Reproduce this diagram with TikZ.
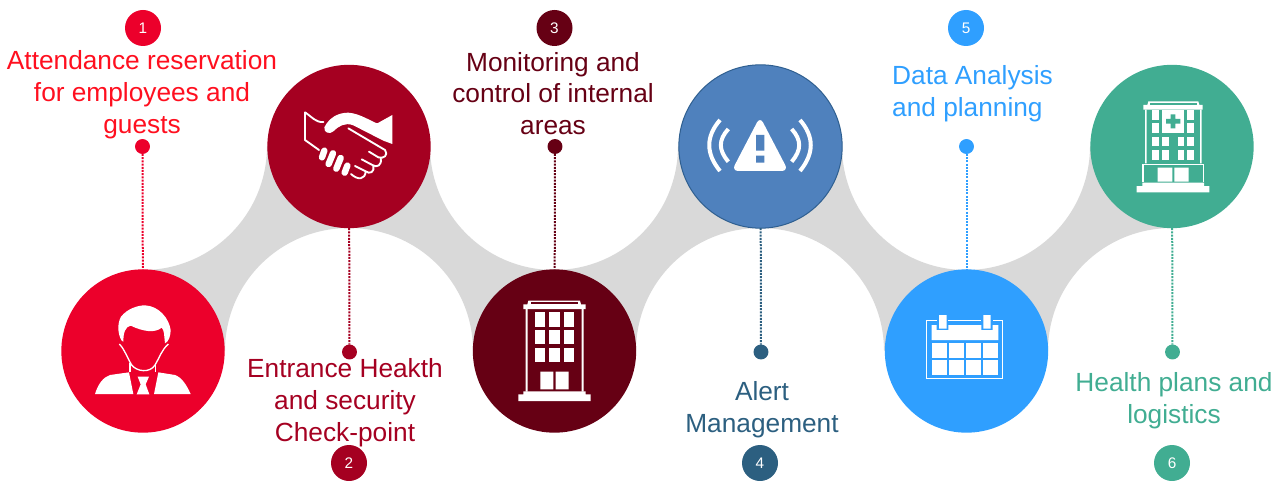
\documentclass[tikz,border=0pt]{standalone}
\usepackage{fontspec}
\setmainfont{Liberation Sans}
\usetikzlibrary{calc}
\definecolor{cA}{HTML}{EC002B}
\definecolor{cAt}{HTML}{FF0F1F}
\definecolor{cB}{HTML}{A50021}
\definecolor{cC}{HTML}{660014}
\definecolor{cD}{HTML}{4F81BD}
\definecolor{cDl}{HTML}{2F5F90}
\definecolor{cDt}{HTML}{2C5F80}
\definecolor{cE}{HTML}{2F9FFF}
\definecolor{cF}{HTML}{41AD92}
\definecolor{band}{HTML}{D9D9D9}
\tikzset{
  hub/.style={circle,inner sep=0,outer sep=0,minimum size=122.5pt,fill=#1},
  stepdot/.style={circle,inner sep=0,outer sep=0,minimum size=11.2pt,fill=#1},
  badge/.style={circle,inner sep=0,outer sep=0,minimum size=27pt,fill=#1,text=white,font=\fontsize{11.5}{13}\selectfont},
  steptext/.style={align=center,inner sep=0,text=#1,font=\fontsize{19.7}{23.9}\selectfont},
  linker/.style={draw=#1,line width=1.5pt,dash pattern=on 1.5pt off 0.9pt},
  zoomB/.style={shift={(460,60)},x=0.25pt,y=-0.25pt},
  zoomC/.style={shift={(860,60)},x=0.25pt,y=-0.25pt},
  iconstroke/.style={white,line width=1.4pt,line cap=round,line join=round},
  fingerstroke/.style={white,line width=4.8pt,line cap=round}
}
\begin{document}
\begin{tikzpicture}[x=0.75pt,y=-0.75pt]
\useasboundingbox (0,0) rectangle (1284,481);
% band
\foreach \a/\b in {143/349,554/760,966/1172}
  \fill[band] (\a,270) .. controls ({\a+68.5},270) and ({\a+124},214.5) .. ({\a+124},146) -- (\b,228) .. controls ({\b-68.5},228) and ({\b-124},282.5) .. ({\b-124},351) -- cycle;
\foreach \a/\b in {349/554,760/966}
  \fill[band] (\b,270) .. controls ({\b-68.5},270) and ({\b-124},214.5) .. ({\b-124},146) -- (\a,228) .. controls ({\a+68.5},228) and ({\a+124},282.5) .. ({\a+124},351) -- cycle;
% hubs
\node[hub=cA] (h1) at (143,351) {};
\node[hub=cB] (h2) at (349,146.5) {};
\node[hub=cC] (h3) at (554.5,351) {};
\node[hub=cD,draw=cDl,line width=0.75pt] (h4) at (760.5,146.5) {};
\node[hub=cE] (h5) at (966.5,351) {};
\node[hub=cF] (h6) at (1172,146.5) {};
% dots
\node[stepdot=cA] (d1) at (142.5,146.5) {};
\node[stepdot=cB] (d2) at (349.5,352) {};
\node[stepdot=cC] (d3) at (555,146.5) {};
\node[stepdot=cDt] (d4) at (761,352) {};
\node[stepdot=cE] (d5) at (966.5,146.5) {};
\node[stepdot=cF] (d6) at (1172.5,352) {};
% connectors
\draw[linker=cA] (d1) -- (h1);
\draw[linker=cB] (h2) -- (d2);
\draw[linker=cC] (d3) -- (h3);
\draw[linker=cDt] (h4) -- (d4);
\draw[linker=cE] (d5) -- (h5);
\draw[linker=cF] (h6) -- (d6);
% badges
\node[badge=cA] (b1) at (143,28) {1};
\node[badge=cB] (b2) at (349,463) {2};
\node[badge=cC] (b3) at (554.5,28) {3};
\node[badge=cDt] (b4) at (760,463) {4};
\node[badge=cE] (b5) at (966,28) {5};
\node[badge=cF] (b6) at (1172,463) {6};
% texts
\node[steptext=cAt] (t1) at (142,94.5) {Attendance reservation\\for employees and\\guests};
\node[steptext=cB] (t2) at (345,403) {Entrance Heakth\\and security\\Check-point};
\node[steptext=cC] (t3) at (553,93.5) {Monitoring and\\control of internal\\areas};
\node[steptext=cDt] (t4) at (762,410) {Alert\\Management};
\node[steptext=cE,align=left] (t5) at (972.5,94) {Data Analysis\\and planning};
\node[steptext=cF] (t6) at (1174,401) {Health plans and\\logistics};
% person
\begin{scope}[shift={(90,300)},x=0.25pt,y=-0.25pt]
\fill[white] (95,122) .. controls (82,100) and (82,70) .. (93,50) .. controls (113,25) and (145,16) .. (165,16) .. controls (207,18) and (237,55) .. (242,90) .. controls (242,105) and (237,125) .. (225,130) -- (222,100) .. controls (222,95) and (218,85) .. (215,83) .. controls (195,100) and (160,95) .. (122,77) .. controls (105,80) and (100,100) .. (100,125) -- cycle;
\draw[white,line width=1pt] (88,132) .. controls (105,150) and (110,170) .. (125,195) .. controls (140,215) and (180,220) .. (195,195) .. controls (210,170) and (215,150) .. (235,132);
\draw[white,line width=1pt] (120,188) -- (120,215) (197,188) -- (197,215);
\fill[white] (15,282) .. controls (25,250) and (40,232) .. (60,225) -- (117,217) -- (130,282) -- cycle;
\fill[white] (205,217) -- (255,225) .. controls (275,232) and (290,255) .. (302,282) -- (192,282) -- cycle;
\fill[white] (143,230) -- (177,230) -- (167,253) -- (178,283) -- (140,283) -- (152,253) -- cycle;
\end{scope}
% handshake
\begin{scope}[shift={(295,100)},x=0.25pt,y=-0.25pt]
\draw[iconstroke] (85,66) .. controls (62,68) and (50,50) .. (30,37) -- (30,120) -- (72,150);
\fill[white] (88,82) .. controls (103,52) and (130,38) .. (160,38) .. controls (195,40) and (235,68) .. (247,70) -- (292,45) -- (292,132) -- (265,122) -- (175,76) .. controls (150,66) and (130,79) .. (115,94) .. controls (105,103) and (86,100) .. (88,82) -- cycle;
\draw[iconstroke] (160,85) -- (270,150) .. controls (282,165) and (265,178) .. (250,172) -- (222,155);
\draw[iconstroke] (257,175) .. controls (262,195) and (245,205) .. (232,195) -- (200,178);
\draw[iconstroke] (235,197) .. controls (240,215) and (225,225) .. (210,213) -- (180,198);
\draw[iconstroke] (212,215) .. controls (210,238) and (190,242) .. (168,222);
\draw[fingerstroke] (88,152) -- (81,172);
\draw[fingerstroke] (114,160) -- (101,192);
\draw[fingerstroke] (137,174) -- (124,206);
\draw[fingerstroke] (157,197) -- (149,218);
\end{scope}
% building
\begin{scope}[zoomB]
\fill[white] (205,722) -- (360,722) -- (363,733) -- (377,733) -- (377,747) -- (190,747) -- (190,733) -- (202,733) -- cycle;
\fill[cC] (213,727) rectangle (355,733);
\fill[white] (197,747) rectangle (203,995) (365,747) rectangle (371,995);
\foreach \x in {224,268,311} \foreach \y in {757,810,863} \fill[white] (\x,\y) rectangle ({\x+32},{\y+43});
\fill[white] (241,935) rectangle (280,988) (287,935) rectangle (326,988);
\fill[white] (190,994) rectangle (377,1003) (175,1003) rectangle (392,1023);
\end{scope}
% alert
\begin{scope}[zoomB]
\fill[white,rounded corners=5pt] (900,170) -- (985,333) -- (815,333) -- cycle;
\fill[cD] (888,225) rectangle (913,272) (888,287) rectangle (913,308);
\draw[white,line width=3pt] (805,207) .. controls (775,240) and (775,270) .. (805,305);
\draw[white,line width=3pt] (995,207) .. controls (1025,240) and (1025,270) .. (995,305);
\draw[white,line width=3pt] (780,180) .. controls (737,230) and (737,280) .. (780,333);
\draw[white,line width=3pt] (1020,180) .. controls (1063,230) and (1063,280) .. (1020,333);
\end{scope}
% calendar
\begin{scope}[shift={(910,300)},x=0.25pt,y=-0.25pt]
\draw[white,line width=1.2pt] (82,62) -- (50,62) -- (50,236) -- (278,236) -- (278,62) -- (248,62);
\draw[white,line width=1.2pt] (115,62) -- (214,62);
\fill[white] (65,75) -- (80,75) -- (80,90) -- (115,90) -- (115,75) -- (214,75) -- (214,90) -- (248,90) -- (248,75) -- (265,75) -- (265,120) -- (65,120) -- cycle;
\fill[white] (87,45) rectangle (110,86) (220,45) rectangle (242,86);
\foreach \x in {65,116,168,220} \foreach \y in {128,180} \fill[white] (\x,\y) rectangle ({\x+45},{\y+45});
\end{scope}
% hospital
\begin{scope}[zoomC]
\fill[white] (865,124) -- (1015,124) -- (1018,135) -- (1028,135) -- (1028,149) -- (850,149) -- (850,135) -- (862,135) -- cycle;
\fill[cF] (870,129) rectangle (1010,135);
\fill[white] (855,149) rectangle (860,310) (1020,149) rectangle (1025,310);
\foreach \x in {876,982} \foreach \y in {150,190,230,270} \fill[white] (\x,\y) rectangle ({\x+21},{\y+29});
\foreach \x in {906,953} \foreach \y in {230,270} \fill[white] (\x,\y) rectangle ({\x+20},{\y+29});
\fill[white] (905,150) rectangle (973,218);
\fill[cF] (932,163) rectangle (946,205) (918,177) rectangle (961,191);
\draw[white,line width=1.2pt] (849,365) -- (849,313) -- (1030,313) -- (1030,365);
\fill[white] (893,323) rectangle (937,365) (943,323) rectangle (986,365);
\fill[white] (847,368) rectangle (1032,378) (830,378) rectangle (1048,397);
\end{scope}
\end{tikzpicture}
\end{document}
